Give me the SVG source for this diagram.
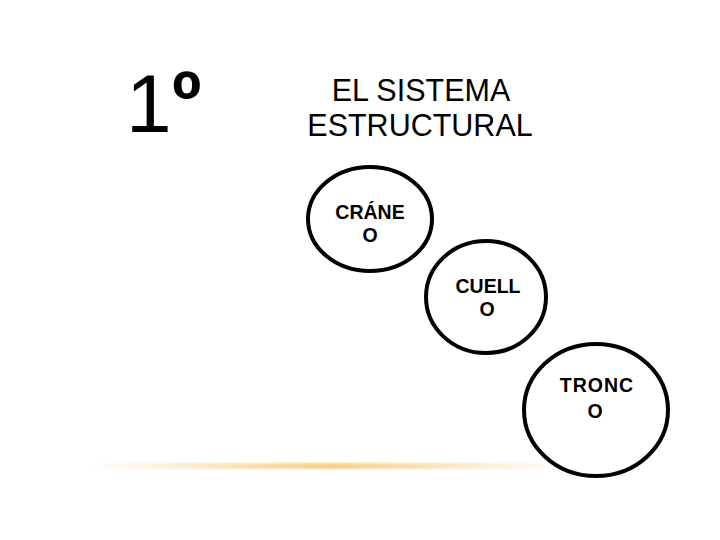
<svg xmlns="http://www.w3.org/2000/svg" width="720" height="540" viewBox="0 0 720 540">
<defs>
<linearGradient id="g" x1="0" x2="1" y1="0" y2="0">
<stop offset="0" stop-color="#f5c97a" stop-opacity="0"/>
<stop offset="0.5" stop-color="#f5c97a" stop-opacity="0.9"/>
<stop offset="1" stop-color="#f5c97a" stop-opacity="0"/>
</linearGradient>
<filter id="b" x="-10%" y="-200%" width="120%" height="500%"><feGaussianBlur stdDeviation="1.2"/></filter>
</defs>
<style>
.c{fill:#fff;stroke:#000;stroke-width:4}
.t{font-family:"Liberation Sans",Arial,sans-serif;fill:#000;text-anchor:middle}
.n{font-family:"Liberation Sans",Arial,sans-serif;fill:#000;text-anchor:middle;font-size:19.5px;font-weight:bold}
</style>
<rect width="720" height="540" fill="#fff"/>
<rect x="90" y="463" width="480" height="6" fill="url(#g)" filter="url(#b)"/>
<g id="title">
<text x="126" y="132" font-family="Liberation Sans, Arial, sans-serif" font-size="82">1</text>
<text x="172" y="128" font-family="Liberation Sans, Arial, sans-serif" font-size="80" font-weight="bold">º</text>
<text class="t" x="421" y="101" font-size="30.5">EL SISTEMA</text>
<text class="t" x="420" y="136" font-size="30.5">ESTRUCTURAL</text>
</g>
<g id="connectors"></g>
<g id="craneo">
<ellipse class="c" cx="370" cy="219" rx="62" ry="52"/>
<text class="n" x="370" y="219">CRÁNE</text>
<text class="n" x="370" y="242">O</text>
</g>
<g id="cuello">
<ellipse class="c" cx="486" cy="297" rx="60" ry="56"/>
<text class="n" x="488" y="293">CUELL</text>
<text class="n" x="487" y="316">O</text>
</g>
<g id="tronco">
<ellipse class="c" cx="596" cy="410" rx="72" ry="66"/>
<text class="n" x="597" y="392" font-size="23.5" letter-spacing="1">TRONC</text>
<text class="n" x="595" y="418" font-size="20">O</text>
</g>
</svg>
